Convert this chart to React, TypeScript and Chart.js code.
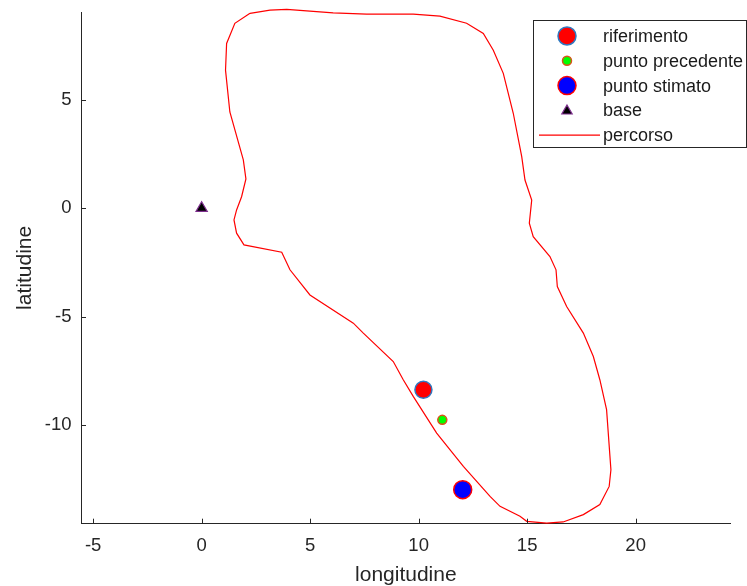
import React, { useEffect, useRef } from 'react';
import { Chart, registerables } from 'chart.js';

Chart.register(...registerables);

// Closed route (longitude / latitude pairs, in order)
const pathLon = [
  2.23, 3.15, 3.92, 6.06, 7.6, 9.75, 10.98, 12.21, 12.98, 13.44, 13.9, 14.36, 14.75, 14.9, 15.21,
  15.1, 15.28, 16.05, 16.33, 16.39, 16.82, 17.59, 18.05, 18.35, 18.66, 18.86, 18.78, 18.35, 17.59,
  16.66, 15.9, 14.98, 14.67, 13.75, 13.29, 12.06, 10.83, 9.75, 9.29, 8.83, 7.45, 6.99, 4.99, 4.07,
  3.69, 1.95, 1.61, 1.49, 1.61, 1.84, 2.04, 1.92, 1.3, 1.1, 1.15, 1.53, 2.23,
];
const pathLat = [
  8.99, 9.14, 9.17, 9.01, 8.95, 8.95, 8.86, 8.53, 8.06, 7.29, 6.22, 4.38, 2.38, 1.3, 0.38,
  -0.69, -1.31, -2.23, -2.84, -3.61, -4.53, -5.76, -6.84, -7.91, -9.29, -12.06, -12.83, -13.67, -14.13,
  -14.47, -14.52, -14.44, -14.21, -13.75, -13.29, -11.91, -10.37, -8.68, -7.91, -7.07, -5.76, -5.3, -4.0, -2.84,
  -2.03, -1.69, -1.15, -0.54, -0.08, 0.53, 1.35, 2.23, 4.44, 6.37, 7.6, 8.53, 8.99,
];

// Single positions
const riferimento = { x: 10.22, y: -8.37 };
const puntoPrecedente = { x: 11.09, y: -9.76 };
const puntoStimato = { x: 12.03, y: -12.98 };
const base = { x: 0, y: 0 };

// Axes
const xTicks = [-5, 0, 5, 10, 15, 20];
const yTicks = [-10, -5, 0, 5];
const xRange = [-5.56, 24.38];
const yRange = [-14.55, 9.05];

const FONT = '"Liberation Sans", Arial, Helvetica, sans-serif';
const AXIS_COLOR = '#262626';

// MATLAB-style ticks pointing into the plot area
const inwardTicks = {
  id: 'inwardTicks',
  afterDatasetsDraw(chart: any) {
    const { ctx, chartArea, scales } = chart;
    ctx.save();
    ctx.strokeStyle = AXIS_COLOR;
    ctx.lineWidth = 1;
    ctx.beginPath();
    for (const t of scales.x.ticks) {
      const px = Math.round(scales.x.getPixelForValue(t.value)) + 0.5;
      ctx.moveTo(px, chartArea.bottom);
      ctx.lineTo(px, chartArea.bottom - 5);
    }
    for (const t of scales.y.ticks) {
      const py = Math.round(scales.y.getPixelForValue(t.value)) + 0.5;
      ctx.moveTo(chartArea.left, py);
      ctx.lineTo(chartArea.left + 5, py);
    }
    ctx.stroke();
    ctx.restore();
  },
};

// Boxed legend in the upper-right corner
const boxLegend = {
  id: 'boxLegend',
  afterDraw(chart: any) {
    const { ctx } = chart;
    const left = 533.5;
    const top = 20.5;
    const width = 213;
    const rowH = 24.8;
    const height = 127;
    ctx.save();
    ctx.fillStyle = '#ffffff';
    ctx.fillRect(left, top, width, height);
    ctx.strokeStyle = AXIS_COLOR;
    ctx.lineWidth = 1;
    ctx.strokeRect(left, top, width, height);

    const markX = 567;
    const textX = 603;
    ctx.font = `18px ${FONT}`;
    ctx.textBaseline = 'middle';
    ctx.textAlign = 'left';
    chart.data.datasets.forEach((ds: any, i: number) => {
      const cy = top + 15.5 + i * rowH;
      if (ds.showLine) {
        ctx.strokeStyle = ds.borderColor;
        ctx.lineWidth = ds.borderWidth;
        ctx.beginPath();
        ctx.moveTo(539, cy);
        ctx.lineTo(600, cy);
        ctx.stroke();
      } else {
        ctx.fillStyle = ds.backgroundColor;
        ctx.strokeStyle = ds.borderColor;
        ctx.lineWidth = ds.borderWidth;
        ctx.beginPath();
        if (ds.pointStyle === 'triangle') {
          const r = ds.legendRadius;
          const h = r * 1.5;
          const half = (r * Math.sqrt(3)) / 2;
          ctx.moveTo(markX, cy - h * 0.6);
          ctx.lineTo(markX + half, cy + h * 0.4);
          ctx.lineTo(markX - half, cy + h * 0.4);
          ctx.closePath();
        } else {
          ctx.arc(markX, cy, ds.legendRadius, 0, Math.PI * 2);
        }
        ctx.fill();
        ctx.stroke();
      }
      ctx.fillStyle = '#1a1a1a';
      ctx.fillText(ds.label, textX, cy + 1);
    });
    ctx.restore();
  },
};

export default function App() {
  const canvasRef = useRef<HTMLCanvasElement>(null);

  useEffect(() => {
    const canvas = canvasRef.current;
    if (!canvas) return;
    const route = pathLon.map((x, i) => ({ x, y: pathLat[i] }));

    const chart = new Chart(canvas, {
      type: 'scatter',
      data: {
        datasets: [
          {
            label: 'riferimento',
            data: [riferimento],
            pointStyle: 'circle',
            pointRadius: 8.5,
            backgroundColor: '#ff0000',
            borderColor: '#2f78c0',
            borderWidth: 1.5,
            legendRadius: 9,
          } as any,
          {
            label: 'punto precedente',
            data: [puntoPrecedente],
            pointStyle: 'circle',
            pointRadius: 4.5,
            backgroundColor: '#00ff00',
            borderColor: '#d95319',
            borderWidth: 1.5,
            legendRadius: 4.5,
          } as any,
          {
            label: 'punto stimato',
            data: [puntoStimato],
            pointStyle: 'circle',
            pointRadius: 9,
            backgroundColor: '#0000ff',
            borderColor: '#ff0000',
            borderWidth: 1.5,
            legendRadius: 9,
          } as any,
          {
            label: 'base',
            data: [base],
            pointStyle: 'triangle',
            pointRadius: 6.5,
            backgroundColor: '#000000',
            borderColor: '#7e2f8e',
            borderWidth: 1.2,
            legendRadius: 6,
          } as any,
          {
            label: 'percorso',
            data: route,
            showLine: true,
            clip: false,
            pointRadius: 0,
            borderColor: '#ff0000',
            backgroundColor: '#ff0000',
            borderWidth: 1.2,
            tension: 0,
          } as any,
        ],
      },
      options: {
        responsive: false,
        devicePixelRatio: 1,
        animation: false,
        layout: { padding: { top: 12, right: 16.3, left: 0, bottom: 0 } },
        plugins: {
          legend: { display: false },
          tooltip: { enabled: false },
        },
        scales: {
          x: {
            type: 'linear',
            min: xRange[0],
            max: xRange[1],
            afterBuildTicks: (s: any) => {
              s.ticks = xTicks.map((v) => ({ value: v }));
            },
            afterFit: (s: any) => {
              s.height = 62.3;
              s.paddingLeft = 0;
              s.paddingRight = 0;
            },
            grid: { display: false, drawTicks: false },
            border: { display: true, color: AXIS_COLOR, width: 1 },
            ticks: {
              color: AXIS_COLOR,
              padding: 11,
              font: { family: FONT, size: 18.5 },
              callback: (v: any) => String(v),
            },
            title: {
              display: true,
              text: 'longitudine',
              color: AXIS_COLOR,
              font: { family: FONT, size: 21, lineHeight: 1 },
              padding: { top: 0, bottom: 0 },
            },
          },
          y: {
            type: 'linear',
            min: yRange[0],
            max: yRange[1],
            afterBuildTicks: (s: any) => {
              s.ticks = yTicks.map((v) => ({ value: v }));
            },
            afterFit: (s: any) => {
              s.width = 81;
              s.paddingTop = 0;
              s.paddingBottom = 0;
            },
            grid: { display: false, drawTicks: false },
            border: { display: true, color: AXIS_COLOR, width: 1 },
            ticks: {
              color: AXIS_COLOR,
              padding: 9.5,
              font: { family: FONT, size: 18.5 },
              callback: (v: any) => String(v),
            },
            title: {
              display: true,
              text: 'latitudine',
              color: AXIS_COLOR,
              font: { family: FONT, size: 21, lineHeight: 1 },
              padding: { top: 15, bottom: 0 },
            },
          },
        },
      },
      plugins: [inwardTicks, boxLegend],
    });

    return () => chart.destroy();
  }, []);

  return (
    <div style={{ position: 'absolute', left: 0, top: 0, width: 747, height: 586, background: '#ffffff' }}>
      <canvas ref={canvasRef} width={747} height={586} style={{ display: 'block', width: 747, height: 586 }} />
    </div>
  );
}
